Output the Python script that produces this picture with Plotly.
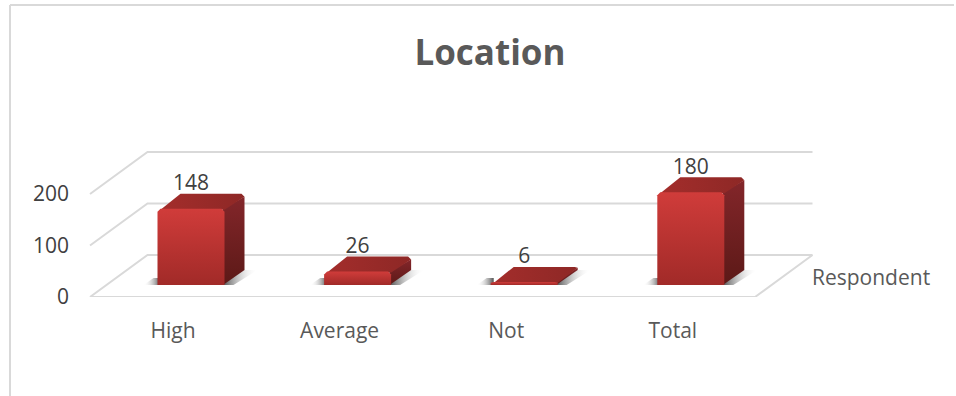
import plotly.graph_objects as go

# ---- data ----
categories = ["High", "Average", "Not", "Total"]
respondent = [148, 26, 6, 180]
y_ticks = [0, 100, 200]
series_name = "Respondent"
title_text = "Location"

# ---- canvas / scale ----
W, H = 956, 396
PX_PER_CAT = 166.6
PX_PER_VAL = 0.515
X0_PX = 173      # pixel of first category
Y0_PX = 297      # pixel of value 0 on the front plane
L, R = 72, 950   # plot area

def dx(px):
    return px / PX_PER_CAT

def dy(px):
    return px / PX_PER_VAL

n = len(categories)
floor_left, floor_right = dx(90 - X0_PX), dx(755 - X0_PX)
depth_x, depth_y = dx(57.5), dy(42)
bar_w = dx(67)
bar_off_x, bar_off_y = dx(18), dy(12)
bar_dx, bar_dy = dx(20), dy(15)
GRID = "#d9d9d9"

fig = go.Figure()

def poly(xs, ys, color=None, grad=None):
    kw = dict(x=xs + xs[:1], y=ys + ys[:1], mode="lines", line=dict(width=0),
              fill="toself", hoverinfo="skip", showlegend=False)
    if grad:
        kw["fillgradient"] = dict(type=grad[0], colorscale=[[0, grad[1]], [1, grad[2]]])
    else:
        kw["fillcolor"] = color
    fig.add_trace(go.Scatter(**kw))

# grid walls and floor
for t in y_ticks:
    fig.add_trace(go.Scatter(
        x=[floor_left, floor_left + depth_x, floor_right + depth_x],
        y=[t, t + depth_y, t + depth_y],
        mode="lines", line=dict(color=GRID, width=2),
        hoverinfo="skip", showlegend=False, cliponaxis=False))
fig.add_trace(go.Scatter(
    x=[floor_left, floor_right, floor_right + depth_x],
    y=[0, 0, depth_y],
    mode="lines", line=dict(color=GRID, width=2),
    hoverinfo="skip", showlegend=False, cliponaxis=False))

# bars
for i, v in enumerate(respondent):
    xl = i + bar_off_x - bar_w / 2
    xr = xl + bar_w
    yb = bar_off_y
    yt = yb + v
    ov = dx(1.5)
    cx, cy = dx(3), dy(min(3, v * PX_PER_VAL * 0.3))

    # floor shadows
    poly([xr - ov, xr + bar_dx, xr + bar_dx + dx(13), xr + dx(9), xr - ov],
         [yb + bar_dy, yb + bar_dy, yb + bar_dy, yb, yb],
         grad=("horizontal", "rgba(70,70,70,0.95)", "rgba(255,255,255,0)"))
    poly([xl - dx(14), xl + dx(3), xl + dx(3), xl - dx(4)],
         [yb, yb, yb + dy(7), yb + dy(7)],
         grad=("horizontal", "rgba(255,255,255,0)", "rgba(70,70,70,0.95)"))

    # side face
    poly([xr - ov, xr + bar_dx, xr + bar_dx, xr - ov],
         [yb, yb + bar_dy, yt + bar_dy - cy, yt],
         grad=("vertical", "#5c1917", "#83262a"))
    # top face
    poly([xl + cx, xl + bar_dx + cx, xr + bar_dx - cx, xr + bar_dx, xr],
         [yt - dy(1), yt + bar_dy, yt + bar_dy, yt + bar_dy - cy, yt - dy(1)],
         grad=("horizontal", "#a32d2b", "#8e2826"))
    # front face
    poly([xl, xl, xl + cx, xr - cx, xr, xr],
         [yb, yt - cy, yt, yt, yt - cy, yb],
         grad=("vertical", "#a12a28", "#d03c3a"))

# data labels
fig.add_trace(go.Scatter(
    x=[i + bar_off_x for i in range(n)],
    y=[v + bar_off_y + bar_dy + dy(9) for v in respondent],
    mode="text", text=[str(v) for v in respondent],
    textposition="middle center",
    textfont=dict(family="Open Sans", size=21, color="#404040"),
    hoverinfo="skip", showlegend=False, cliponaxis=False))

# series axis label
fig.add_trace(go.Scatter(
    x=[floor_right + dx(57)], y=[dy(17)],
    mode="text", text=[series_name], textposition="middle right",
    textfont=dict(family="Open Sans", size=21, color="#595959"),
    hoverinfo="skip", showlegend=False, cliponaxis=False))

fig.update_layout(
    width=W, height=H, autosize=False,
    margin=dict(l=L, r=W - R, t=0, b=H - Y0_PX),
    paper_bgcolor="white", plot_bgcolor="rgba(0,0,0,0)",
    font=dict(family="Open Sans", color="#595959"),
    title=dict(text=f"<b>{title_text}</b>", x=490 / W, y=1 - 53 / H, xref="container",
               yref="container", xanchor="center", yanchor="middle",
               font=dict(family="Open Sans", size=35, color="#595959")),
    xaxis=dict(range=[dx(L - X0_PX), dx(R - X0_PX)], tickvals=list(range(n)),
               ticktext=categories, showgrid=False, zeroline=False, showline=False,
               ticks="outside", ticklen=15, tickcolor="rgba(0,0,0,0)",
               tickfont=dict(family="Open Sans", size=21, color="#595959")),
    yaxis=dict(range=[0, dy(Y0_PX)], tickvals=y_ticks, showgrid=False, zeroline=False,
               showline=False, ticks="", ticklabelstandoff=2,
               tickfont=dict(family="Open Sans", size=21, color="#404040")),
    shapes=[
        dict(type="line", xref="paper", yref="paper", layer="below",
             x0=(10 - L) / (R - L), x1=(954 - L) / (R - L),
             y0=(Y0_PX - 5) / Y0_PX, y1=(Y0_PX - 5) / Y0_PX,
             line=dict(color=GRID, width=2)),
        dict(type="line", xref="paper", yref="paper", layer="below",
             x0=(10 - L) / (R - L), x1=(10 - L) / (R - L),
             y0=(Y0_PX - 5) / Y0_PX, y1=(Y0_PX - H) / Y0_PX,
             line=dict(color=GRID, width=2)),
    ],
)

fig.write_html("out.html", post_script="document.body.style.margin='0';",
               config={"displayModeBar": False})
